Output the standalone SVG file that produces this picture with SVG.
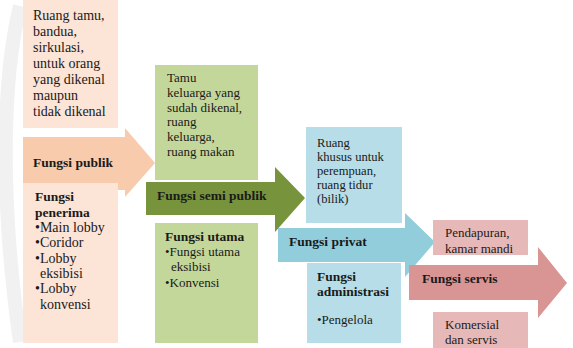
<svg xmlns="http://www.w3.org/2000/svg" width="573" height="348" viewBox="0 0 573 348">
<style>
text{font-family:"Liberation Serif","Times New Roman",serif;fill:#1a1a1a}
.t14{font-size:14px}
.t13{font-size:13px}
.t12{font-size:12.6px}
.b{font-weight:bold;font-size:13.5px}
</style>
<rect width="573" height="348" fill="#ffffff"/>
<g id="watermark" fill="none" stroke="#f1f1f1" stroke-width="14">
<path d="M20,6 C2,80 0,200 20,342"/>
</g>
<g id="connectors">
<polygon id="arrow-publik" points="23,137 125,137 125,128 155,163 125,197 125,190 23,190" fill="#f8cbad"/>
<polygon id="arrow-semipublik" points="146,182 275,182 275,167 305,198 275,232 275,215 146,215" fill="#77933c"/>
<polygon id="arrow-privat" points="278,228 405,228 405,213 435,242 405,277 405,262 278,262" fill="#92cddc"/>
<polygon id="arrow-servis" points="409,265 538,265 538,247 567,283 538,318 538,300 409,300" fill="#d99594"/>
</g>
<g id="publik-top">
<rect x="23" y="0" width="95" height="128" fill="#fce4d6"/>
<text class="t14" x="33" y="20">Ruang tamu,</text>
<text class="t14" x="33" y="36">bandua,</text>
<text class="t14" x="33" y="52">sirkulasi,</text>
<text class="t14" x="33" y="68">untuk orang</text>
<text class="t14" x="33" y="84">yang dikenal</text>
<text class="t14" x="33" y="100">maupun</text>
<text class="t14" x="33" y="116">tidak dikenal</text>
</g>
<g id="fungsi-publik"><text class="b" x="33" y="167">Fungsi publik</text></g>
<g id="publik-bottom">
<rect x="23" y="183" width="95" height="160" fill="#fce4d6"/>
<text class="b" x="35" y="201">Fungsi</text>
<text class="b" x="35" y="217">penerima</text>
<text class="t14" x="35" y="232">•Main lobby</text>
<text class="t14" x="35" y="247">•Coridor</text>
<text class="t14" x="35" y="263">•Lobby</text>
<text class="t14" x="40" y="278">eksibisi</text>
<text class="t14" x="35" y="293">•Lobby</text>
<text class="t14" x="40" y="309">konvensi</text>
</g>
<g id="semipublik-top">
<rect x="155" y="65" width="103" height="115" fill="#c4d79b"/>
<text class="t13" x="167" y="82">Tamu</text>
<text class="t13" x="167" y="97">keluarga yang</text>
<text class="t13" x="167" y="112">sudah dikenal,</text>
<text class="t13" x="167" y="126">ruang</text>
<text class="t13" x="167" y="141">keluarga,</text>
<text class="t13" x="167" y="156">ruang makan</text>
</g>
<g id="fungsi-semipublik"><text class="b" x="157" y="200">Fungsi semi publik</text></g>
<g id="semipublik-bottom">
<rect x="155" y="223" width="103" height="120" fill="#c4d79b"/>
<text class="b" x="165" y="241">Fungsi utama</text>
<text class="t13" x="165" y="256">•Fungsi utama</text>
<text class="t13" x="171" y="271">eksibisi</text>
<text class="t13" x="165" y="287">•Konvensi</text>
</g>
<g id="privat-top">
<rect x="306" y="127" width="96" height="96" fill="#b7dee8"/>
<text class="t12" x="317" y="147">Ruang</text>
<text class="t12" x="317" y="161">khusus untuk</text>
<text class="t12" x="317" y="175">perempuan,</text>
<text class="t12" x="317" y="189">ruang tidur</text>
<text class="t12" x="317" y="203">(bilik)</text>
</g>
<g id="fungsi-privat"><text class="b" x="289" y="246">Fungsi privat</text></g>
<g id="privat-bottom">
<rect x="307" y="263" width="94" height="80" fill="#b7dee8"/>
<text class="b" x="317" y="281">Fungsi</text>
<text class="b" x="317" y="296">administrasi</text>
<text class="t13" x="317" y="324">•Pengelola</text>
</g>
<g id="servis-top">
<rect x="433" y="220" width="95" height="35" fill="#e6b9b8"/>
<text class="t13" x="445" y="237">Pendapuran,</text>
<text class="t13" x="445" y="253">kamar mandi</text>
</g>
<g id="fungsi-servis"><text class="b" x="422" y="283">Fungsi servis</text></g>
<g id="servis-bottom">
<rect x="433" y="312" width="95" height="36" fill="#e6b9b8"/>
<text class="t13" x="445" y="329">Komersial</text>
<text class="t13" x="445" y="344">dan servis</text>
</g>
</svg>
